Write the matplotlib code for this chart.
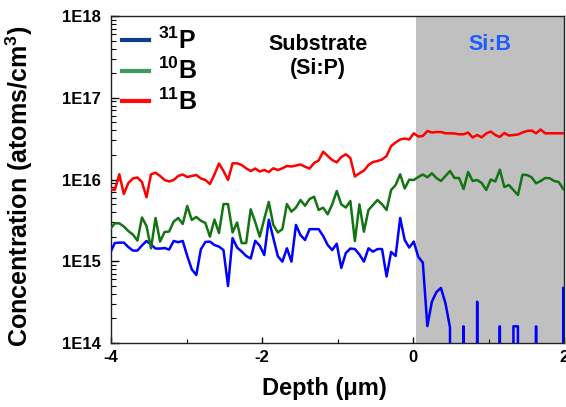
import numpy as np
import matplotlib
matplotlib.use("Agg")
import matplotlib.pyplot as plt
from matplotlib.lines import Line2D
from matplotlib.ticker import FixedLocator, FuncFormatter, LogLocator, NullFormatter

plt.rcParams["font.family"] = ["Liberation Sans", "DejaVu Sans"]
plt.rcParams["font.weight"] = "bold"
plt.rcParams["mathtext.fontset"] = "custom"
plt.rcParams["mathtext.rm"] = "Liberation Sans:bold"
plt.rcParams["mathtext.bf"] = "Liberation Sans:bold"
plt.rcParams["mathtext.it"] = "Liberation Sans:bold"

# SIMS depth grid (um)
depth_start = -4.01
depth_step = 0.06
n_points = 101
depth = depth_start + depth_step * np.arange(n_points)

# 31P concentration, units of 1e15 atoms/cm3 (0 = below detection)
p31 = [1.27, 1.67, 1.69, 1.69, 1.49, 1.35, 1.35, 1.56, 1.77, 1.60,
       1.43, 1.43, 1.45, 1.39, 1.77, 1.71, 1.77, 1.16, 0.797, 0.679,
       1.40, 1.72, 1.74, 1.58, 1.51, 1.37, 0.498, 1.92, 1.47, 1.32,
       1.16, 1.08, 1.78, 1.55, 1.19, 3.22, 1.92, 1.15, 0.99, 1.44,
       0.99, 2.78, 2.09, 1.82, 2.47, 2.47, 2.47, 2.04, 1.58, 1.37,
       1.64, 0.827, 1.26, 1.43, 1.41, 1.21, 0.99, 1.44, 1.31, 1.41,
       1.41, 0.651, 1.30, 1.16, 3.38, 1.82, 1.47, 1.74, 1.13, 0.965,
       0.161, 0.32, 0.42, 0.471, 0.306, 0.155, 0, 0, 0.16, 0,
       0, 0.32, 0, 0, 0, 0, 0.16, 0, 0, 0.16,
       0.16, 0, 0, 0, 0.16, 0, 0, 0, 0, 0,
       0.47]

# 10B concentration, units of 1e15 atoms/cm3
b10 = [2.48, 2.91, 2.91, 2.66, 2.34, 2.12, 1.79, 3.43, 2.70, 1.44,
       3.38, 1.74, 2.28, 2.31, 3.05, 3.38, 2.86, 4.74, 3.20, 3.48,
       3.13, 2.94, 2.00, 3.24, 2.22, 5.01, 5.01, 2.25, 2.98, 1.67,
       1.67, 4.32, 3.02, 2.00, 3.29, 5.31, 2.78, 2.25, 2.48, 5.01,
       4.04, 4.54, 5.61, 4.78, 5.77, 6.16, 4.24, 4.52, 3.75, 4.97,
       7.23, 4.97, 4.54, 5.46, 1.77, 4.97, 2.30, 4.24, 4.88, 5.61,
       4.97, 4.24, 7.44, 8.56, 11.58, 7.76, 9.94, 9.86, 10.73, 11.51,
       10.64, 11.91, 10.43, 9.59, 11.03, 12.70, 10.43, 10.43, 7.65, 12.35,
       9.59, 9.86, 9.06, 7.44, 10.0, 9.45, 13.18, 8.09, 8.56, 7.44,
       6.46, 11.45, 11.35, 10.64, 8.98, 9.59, 10.43, 10.36, 9.59, 9.32,
       7.65]

# 11B concentration, units of 1e16 atoms/cm3
b11 = [0.765, 0.744, 1.158, 0.665, 0.906, 1.03, 1.058, 0.932, 0.606, 1.158,
       1.211, 1.104, 0.986, 0.945, 0.986, 1.104, 1.151, 1.073, 1.104, 1.135,
       1.03, 0.986, 0.881, 1.151, 1.569, 1.27, 0.986, 1.578, 1.578, 1.504,
       1.371, 1.27, 1.363, 1.253, 1.307, 1.235, 1.371, 1.307, 1.371, 1.463,
       1.442, 1.483, 1.526, 1.434, 1.363, 1.591, 1.708, 2.188, 1.939, 1.732,
       1.623, 1.884, 2.034, 1.832, 1.088, 1.191, 1.288, 1.504, 1.637, 1.684,
       1.757, 1.939, 2.569, 2.835, 3.086, 3.173, 3.086, 3.674, 3.357, 3.405,
       3.920, 3.757, 3.811, 3.811, 3.674, 3.674, 3.653, 3.572, 3.572, 3.757,
       3.264, 3.502, 3.282, 3.653, 3.866, 3.502, 3.311, 3.706, 3.453, 3.502,
       3.552, 3.757, 3.920, 3.975, 3.674, 4.089, 3.674, 3.674, 3.674, 3.674,
       3.674]

series_labels = [r"$^{31}$P", r"$^{10}$B", r"$^{11}$B"]
line_colors = ["#0000ff", "#137413", "#ff0000"]
legend_colors = ["#0d3b8e", "#3d9a60", "#ff0a0a"]

epi_start = 0.04  # Si:B layer begins here

fig = plt.figure(figsize=(5.66, 4.07), dpi=100)
ax = fig.add_axes([111 / 566, 1 - 343 / 407, (564 - 111) / 566, (343 - 16) / 407])

ax.axvspan(epi_start, 2.0, color="#c0c0c0", lw=0, zorder=0)

ax.set_yscale("log", nonpositive="clip")
ax.plot(depth, np.array(p31) * 1e15, color=line_colors[0], lw=1.8, zorder=3)
ax.plot(depth, np.array(b10) * 1e15, color=line_colors[1], lw=1.8, zorder=3)
ax.plot(depth, np.array(b11) * 1e16, color=line_colors[2], lw=1.8, zorder=3)

ax.set_xlim(-4, 2)
ax.set_ylim(1e14, 1e18)

ax.xaxis.set_major_locator(FixedLocator([-4, -2, 0, 2]))
ax.xaxis.set_minor_locator(FixedLocator([-3, -1, 1]))
ax.xaxis.set_major_formatter(FuncFormatter(lambda v, p: f"{v:.0f}"))
ax.yaxis.set_major_locator(FixedLocator([1e14, 1e15, 1e16, 1e17, 1e18]))
ax.yaxis.set_minor_locator(LogLocator(base=10, subs=np.arange(2, 10)))
ax.yaxis.set_minor_formatter(NullFormatter())
ax.yaxis.set_major_formatter(FuncFormatter(lambda v, p: f"1E{int(round(np.log10(v)))}"))

ax.tick_params(axis="both", which="both", direction="in", top=False, right=False)
ax.tick_params(axis="y", which="major", length=6, width=1, labelsize=12, pad=7)
ax.tick_params(axis="y", which="minor", length=3.5, width=0.8)
ax.tick_params(axis="x", which="major", length=4, width=1, labelsize=12, pad=5)
ax.tick_params(axis="x", which="minor", length=3, width=0.8)
for lab in ax.get_xticklabels() + ax.get_yticklabels():
    lab.set_fontweight("bold")

for sp in ax.spines.values():
    sp.set_linewidth(1.0)
    sp.set_color("#222222")

ax.set_xlabel("Depth (\u03bcm)", fontsize=17, fontweight="bold")
ax.xaxis.set_label_coords(0.47, -0.105)
ax.set_ylabel(r"Concentration (atoms/cm$^{3}$)", fontsize=18, fontweight="bold")
ax.yaxis.set_label_coords(-0.168, 0.48)

ax.text(-1.26, 0.945, "Substrate\n(Si:P)", transform=ax.get_xaxis_transform(),
        ha="center", va="top", fontsize=15.5, fontweight="bold", linespacing=1.2)
ax.text(1.02, 0.945, "Si:B", transform=ax.get_xaxis_transform(),
        ha="center", va="top", fontsize=15.5, fontweight="bold", color="#1f5cff")

handles = [Line2D([0], [0], color=c, lw=3) for c in legend_colors]
ax.legend(handles, series_labels, loc="upper left", bbox_to_anchor=(0.024, 0.965),
          frameon=False, handlelength=1.1, handletextpad=0.35,
          labelspacing=0.17, borderpad=0, borderaxespad=0,
          prop={"weight": "bold", "size": 18})

fig.savefig("out.png", dpi=100)
